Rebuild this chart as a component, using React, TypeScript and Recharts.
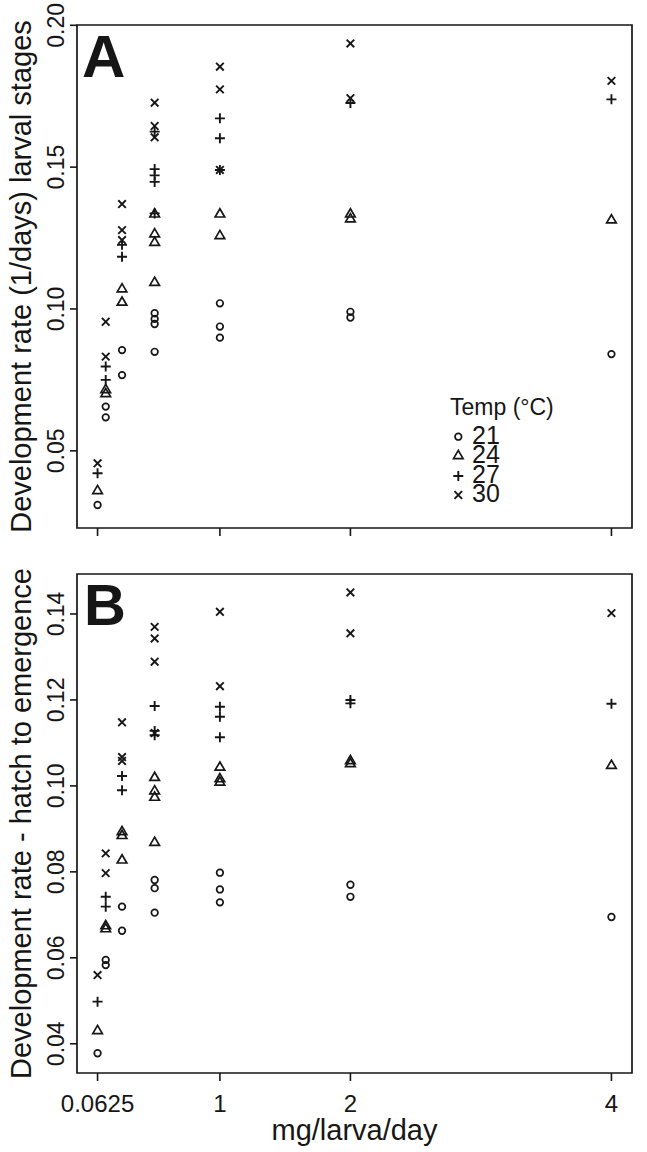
import React from 'react';
import { ScatterChart, Scatter, XAxis, YAxis, ReferenceArea } from 'recharts';

const FONT = '"Liberation Sans", Arial, Helvetica, sans-serif';
const INK = '#161616';

// ---- axes ----
const xTicks = [0.0625, 1, 2, 4];
const xTickLabels = ['0.0625', '1', '2', '4'];
const xDomain: [number, number] = [-0.095, 4.1575];
const yTicksA = [0.05, 0.1, 0.15, 0.2];
const yDomainA: [number, number] = [0.0228, 0.2001];
const yTicksB = [0.04, 0.06, 0.08, 0.1, 0.12, 0.14];
const yDomainB: [number, number] = [0.0332, 0.1493];
const temps = ['21', '24', '27', '30'];

// ---- Panel A: development rate (1/days), larval stages : [mg/larva/day, rate] ----
const larval21 = [[0.0625, 0.0309], [0.125, 0.0656], [0.125, 0.0618], [0.25, 0.0855], [0.25, 0.0767], [0.5, 0.0985], [0.5, 0.0965], [0.5, 0.0947], [0.5, 0.0849], [1, 0.102], [1, 0.0938], [1, 0.0899], [2, 0.099], [2, 0.097], [4, 0.0841]];
const larval24 = [[0.0625, 0.0362], [0.125, 0.0718], [0.125, 0.0704], [0.25, 0.1073], [0.25, 0.1026], [0.5, 0.1337], [0.5, 0.1267], [0.5, 0.1237], [0.5, 0.1096], [1, 0.1337], [1, 0.1261], [2, 0.1337], [2, 0.132], [4, 0.1316]];
const larval27 = [[0.0625, 0.0421], [0.125, 0.0797], [0.125, 0.075], [0.25, 0.1226], [0.25, 0.1184], [0.5, 0.1625], [0.5, 0.1493], [0.5, 0.1471], [0.5, 0.1448], [0.5, 0.1337], [1, 0.1672], [1, 0.1602], [1, 0.149], [2, 0.1726], [4, 0.1739]];
const larval30 = [[0.0625, 0.0456], [0.125, 0.0955], [0.125, 0.0832], [0.25, 0.137], [0.25, 0.1278], [0.25, 0.1243], [0.5, 0.1727], [0.5, 0.1645], [0.5, 0.1605], [1, 0.1854], [1, 0.1774], [1, 0.149], [2, 0.1936], [2, 0.1743], [4, 0.1804]];

// ---- Panel B: development rate, hatch to emergence ----
const hatch21 = [[0.0625, 0.0378], [0.125, 0.0595], [0.125, 0.0583], [0.25, 0.0719], [0.25, 0.0663], [0.5, 0.0781], [0.5, 0.0762], [0.5, 0.0705], [1, 0.0798], [1, 0.0759], [1, 0.0729], [2, 0.077], [2, 0.0742], [4, 0.0695]];
const hatch24 = [[0.0625, 0.0432], [0.125, 0.0676], [0.125, 0.0669], [0.25, 0.0895], [0.25, 0.0886], [0.25, 0.0829], [0.5, 0.1021], [0.5, 0.099], [0.5, 0.0975], [0.5, 0.087], [1, 0.1045], [1, 0.1018], [1, 0.101], [2, 0.106], [2, 0.1053], [4, 0.1049]];
const hatch27 = [[0.0625, 0.0498], [0.125, 0.0742], [0.125, 0.0719], [0.25, 0.1023], [0.25, 0.099], [0.5, 0.1186], [0.5, 0.1128], [0.5, 0.1118], [1, 0.1184], [1, 0.1161], [1, 0.1113], [2, 0.12], [2, 0.1192], [4, 0.1191]];
const hatch30 = [[0.0625, 0.056], [0.125, 0.0843], [0.125, 0.0797], [0.25, 0.1148], [0.25, 0.1067], [0.25, 0.1058], [0.5, 0.137], [0.5, 0.1343], [0.5, 0.1289], [0.5, 0.1123], [1, 0.1405], [1, 0.1232], [2, 0.145], [2, 0.1355], [4, 0.1402]];

const toPts = (arr: number[][]) => arr.map(([x, y]) => ({ x, y }));

const SW = 1.7;
const CircleMark = ({ cx, cy }: any) => <circle cx={cx} cy={cy} r={3.3} fill="none" stroke={INK} strokeWidth={SW} />;
const TriangleMark = ({ cx, cy }: any) => (
  <path d={`M${cx},${cy - 4.6} L${cx + 4.8},${cy + 3.6} L${cx - 4.8},${cy + 3.6} Z`} fill="none" stroke={INK} strokeWidth={SW} strokeLinejoin="miter" />
);
const PlusMark = ({ cx, cy }: any) => (
  <path d={`M${cx - 5},${cy} L${cx + 5},${cy} M${cx},${cy - 5} L${cx},${cy + 5}`} stroke={INK} strokeWidth={1.9} fill="none" />
);
const CrossMark = ({ cx, cy }: any) => (
  <path d={`M${cx - 3.8},${cy - 3.8} L${cx + 3.8},${cy + 3.8} M${cx - 3.8},${cy + 3.8} L${cx + 3.8},${cy - 3.8}`} stroke={INK} strokeWidth={1.9} fill="none" />
);
const marks = [CircleMark, TriangleMark, PlusMark, CrossMark];

const YTick = ({ y, payload }: any) => (
  <text x={64} y={y} transform={`rotate(-90 64 ${y})`} textAnchor="middle" fontFamily={FONT} fontSize={23} fill={INK}>
    {Number(payload.value).toFixed(2)}
  </text>
);
const EmptyTick = () => <g />;
const XTickB = ({ x, payload }: any) => (
  <text x={x} y={552} textAnchor="middle" fontFamily={FONT} fontSize={24} fill={INK}>
    {xTickLabels[xTicks.indexOf(payload.value)]}
  </text>
);

function Panel({ sets, yDomain, yTicks, height, margin, xHeight, xTick }: any) {
  return (
    <ScatterChart width={647} height={height} margin={margin}>
      <XAxis type="number" dataKey="x" domain={xDomain} ticks={xTicks} allowDataOverflow interval={0}
        axisLine={false} tickLine={{ stroke: INK, strokeWidth: 1.6 }} tickSize={8} height={xHeight} tick={xTick} />
      <YAxis type="number" dataKey="y" domain={yDomain} ticks={yTicks} allowDataOverflow interval={0}
        axisLine={false} tickLine={{ stroke: INK, strokeWidth: 1.6 }} tickSize={7} width={60} tick={<YTick />} />
      <ReferenceArea x1={xDomain[0]} x2={xDomain[1]} y1={yDomain[0]} y2={yDomain[1]} fill="none" fillOpacity={0} stroke={INK} strokeWidth={1.7} />
      {sets.map((s: number[][], i: number) => (
        <Scatter key={temps[i]} name={temps[i]} data={toPts(s)} shape={marks[i]} isAnimationActive={false} />
      ))}
    </ScatterChart>
  );
}

export default function App() {
  const legendY = [436.7, 455, 476, 495];
  const legendBase = [444, 463, 483, 502];
  return (
    <div style={{ position: 'absolute', left: 0, top: 0, width: 647, height: 1152, background: '#fff' }}>
      <div style={{ position: 'absolute', left: 0, top: 0 }}>
        <Panel sets={[larval21, larval24, larval27, larval30]} yDomain={yDomainA} yTicks={yTicksA}
          height={560} margin={{ top: 25, right: 15, bottom: 22, left: 17 }} xHeight={10} xTick={<EmptyTick />} />
      </div>
      <div style={{ position: 'absolute', left: 0, top: 560 }}>
        <Panel sets={[hatch21, hatch24, hatch27, hatch30]} yDomain={yDomainB} yTicks={yTicksB}
          height={592} margin={{ top: 14, right: 15, bottom: 39, left: 17 }} xHeight={40} xTick={<XTickB />} />
      </div>
      <svg width={647} height={1152} style={{ position: 'absolute', left: 0, top: 0, pointerEvents: 'none' }}>
        <g fontFamily={FONT} fill={INK}>
          <text x={82} y={77} fontSize={60} fontWeight="bold">A</text>
          <text x={84} y={625} fontSize={58} fontWeight="bold">B</text>
          <text x={31} y={276.5} transform="rotate(-90 31 276.5)" textAnchor="middle" fontSize={29}>Development rate (1/days) larval stages</text>
          <text x={31} y={823.5} transform="rotate(-90 31 823.5)" textAnchor="middle" fontSize={29}>Development rate - hatch to emergence</text>
          <text x={354.5} y={1140} textAnchor="middle" fontSize={29}>mg/larva/day</text>
          <text x={450} y={415} fontSize={23}>Temp (°C)</text>
          {temps.map((t, i) => (
            <text key={t} x={472} y={legendBase[i]} fontSize={25}>{t}</text>
          ))}
        </g>
        {marks.map((M, i) => (
          <M key={i} cx={458.3} cy={legendY[i]} />
        ))}
      </svg>
    </div>
  );
}
